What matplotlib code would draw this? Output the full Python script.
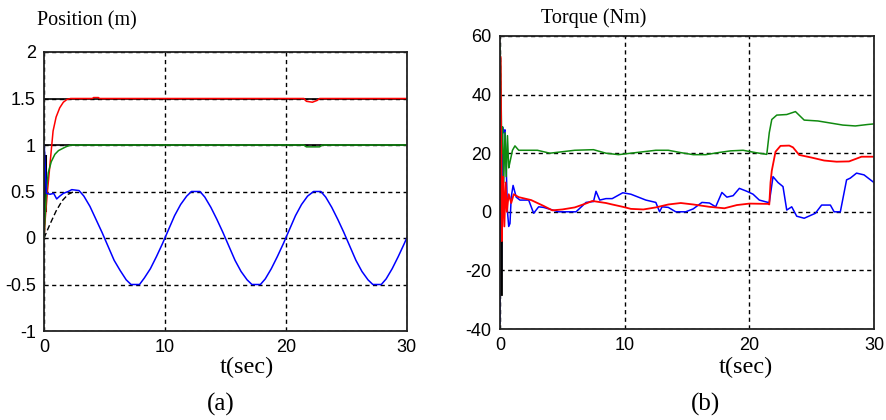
from matplotlib import pyplot as plt
import numpy as np

plt.rcParams['font.family'] = ['Liberation Sans', 'DejaVu Sans']

# ---- (a) position ----
pos_red = [(0.0, 0.0), (0.1, 0.2), (0.25, 0.45), (0.5, 0.8), (0.75, 1.15), (1.0, 1.3),
           (1.3, 1.4), (1.6, 1.46), (1.9, 1.49), (2.2, 1.5), (4.0, 1.5), (4.1, 1.51),
           (4.5, 1.51), (4.6, 1.5), (21.5, 1.5), (21.7, 1.47), (22.2, 1.46), (22.6, 1.48),
           (22.8, 1.5), (30.0, 1.5)]
pos_green = [(0.0, 0.0), (0.1, 0.25), (0.2, 0.5), (0.35, 0.7), (0.6, 0.82), (0.9, 0.9),
             (1.2, 0.94), (1.5, 0.96), (1.8, 0.98), (2.2, 1.0), (21.5, 1.0), (21.7, 0.98),
             (22.2, 0.98), (22.8, 0.98), (23.0, 1.0), (30.0, 1.0)]
pos_blue = [(0.0, 1.0), (0.02, 1.0), (0.2, 0.48), (0.5, 0.47), (0.8, 0.48), (1.05, 0.42),
            (1.3, 0.45), (1.6, 0.48), (2.0, 0.5), (2.3, 0.52), (2.9, 0.51), (3.3, 0.45),
            (3.8, 0.34), (4.3, 0.2), (4.8, 0.06), (5.3, -0.09), (5.8, -0.24), (6.3, -0.35),
            (6.8, -0.45), (7.2, -0.5), (7.9, -0.5), (8.3, -0.43), (8.8, -0.33), (9.3, -0.2),
            (9.8, -0.06), (10.3, 0.09), (10.8, 0.24), (11.3, 0.36), (11.8, 0.45), (12.2, 0.5),
            (12.9, 0.5), (13.3, 0.44), (13.8, 0.33), (14.3, 0.2), (14.8, 0.06), (15.3, -0.09),
            (15.8, -0.24), (16.3, -0.36), (16.8, -0.45), (17.2, -0.5), (17.9, -0.5), (18.3, -0.44),
            (18.8, -0.33), (19.3, -0.2), (19.8, -0.06), (20.3, 0.09), (20.8, 0.24), (21.3, 0.36),
            (21.8, 0.45), (22.3, 0.5), (22.9, 0.5), (23.3, 0.44), (23.8, 0.33), (24.3, 0.2),
            (24.8, 0.06), (25.3, -0.09), (25.8, -0.24), (26.3, -0.36), (26.8, -0.45), (27.2, -0.5),
            (27.9, -0.5), (28.3, -0.44), (28.8, -0.33), (29.3, -0.2), (29.8, -0.06), (30.0, 0.0)]
# desired trajectories (black)
ref_x = [(0.0, 1.5), (30.0, 1.5)]
ref_y = [(0.0, 1.0), (30.0, 1.0)]
ref_z = [(0.0, 0.0), (0.5, 0.15), (1.0, 0.29), (1.5, 0.4), (2.0, 0.47), (2.5, 0.5)]
ref_spike = [(0.08, 0.3), (0.08, 0.88)]

# ---- (b) torque ----
tq_red = [(0.0, 0), (0.03, 53), (0.1, 20), (0.15, -10), (0.25, 12), (0.35, -5), (0.45, 10),
          (0.55, 0), (0.7, 6), (0.9, 3), (1.1, 6), (1.5, 5), (2.0, 4.5), (2.5, 4), (3.0, 3),
          (3.5, 2), (4.2, 0.5), (5.0, 0.8), (6.0, 1.5), (7.0, 3), (7.4, 3.7), (8.5, 3),
          (9.0, 2.5), (9.85, 1.7), (10.5, 1), (11.5, 0.8), (12.5, 1.5), (13.5, 2.5), (14.5, 3),
          (15.5, 2.5), (16.8, 1.7), (18.0, 1.2), (19.0, 2.3), (20.0, 2.8), (21.5, 2.7),
          (21.6, 2.5), (21.7, 10), (21.8, 14), (22.1, 20.5), (22.5, 22.5), (23.2, 22.6),
          (23.5, 22), (24.0, 19.4), (25.0, 18.5), (26.0, 17.5), (27.0, 17.1), (28.0, 17.2),
          (29.0, 18.8), (30.0, 18.8)]
tq_green = [(0.0, 57), (0.05, 50), (0.15, 20), (0.2, 29), (0.3, 10), (0.4, 27), (0.5, 12),
            (0.6, 26), (0.7, 15), (0.8, 17), (0.9, 19), (1.0, 21), (1.2, 22.5), (1.5, 21),
            (3.0, 21), (4.0, 20), (5.0, 20.5), (6.0, 21), (7.5, 21.2), (8.5, 20), (9.5, 19.5),
            (10.5, 20), (11.5, 20.5), (12.5, 21), (13.5, 21), (14.5, 20.2), (15.5, 19.5),
            (16.5, 19.5), (17.5, 20.2), (18.5, 20.8), (19.5, 21), (20.5, 20.2), (21.4, 19.6),
            (21.6, 27), (21.8, 31.5), (22.2, 33), (23.0, 33.2), (23.7, 34.2), (24.4, 31.3),
            (25.5, 31), (26.5, 30.3), (27.5, 29.6), (28.5, 29.3), (29.5, 29.8), (30.0, 30)]
tq_blue = [(0.0, -38), (0.05, 12), (0.1, -28), (0.2, 29), (0.3, 27), (0.4, 28), (0.5, 15),
           (0.6, 0), (0.7, -5), (0.8, -4), (0.9, 5), (1.05, 9), (1.3, 5), (1.6, 4), (2.0, 4),
           (2.3, 4), (2.7, -0.5), (3.1, 1.7), (3.5, 1.5), (3.9, 1), (4.7, 0), (6.1, 0),
           (6.9, 3.2), (7.5, 3.5), (7.7, 7), (8.0, 4), (8.5, 4.5), (9.0, 4.5), (9.85, 6.5),
           (10.5, 6), (11.7, 4), (12.5, 3.2), (12.8, 0), (13.0, 1.7), (13.5, 1.5), (14.1, 0),
           (14.9, 0), (15.5, 1), (16.2, 3.2), (16.8, 3), (17.3, 1.7), (17.8, 6.6), (18.2, 5),
           (18.7, 5.5), (19.2, 8), (19.8, 7), (20.3, 6), (20.8, 4), (21.5, 3.2), (21.6, 3.2),
           (21.9, 12), (22.3, 10), (22.7, 8.6), (23.0, 0.6), (23.4, 1.7), (23.8, -1.5),
           (24.4, -2.2), (25.3, -0.5), (25.8, 2.3), (26.5, 2.3), (26.8, 0), (27.3, 0),
           (27.8, 10.9), (28.1, 11.5), (28.6, 13.2), (29.2, 12.6), (29.9, 10.3), (30.0, 10.0)]
tq_spike = [(0.08, -28), (0.08, -10)]

RED, GREEN, BLUE = '#ff0000', '#108a10', '#0000ff'

fig = plt.figure(figsize=(8.86, 4.2), dpi=100)
ax1 = fig.add_axes([44/886, 1-331/420, 362.7/886, 279/420])
ax2 = fig.add_axes([500/886, 1-329/420, 374/886, 293/420])


def xy(pts):
    a = np.array(pts, dtype=float)
    return a[:, 0], a[:, 1]


def style(ax, yticks, ylabels):
    ax.set_xlim(0, 30)
    ax.set_xticks([0, 10, 20, 30])
    ax.set_yticks(yticks)
    ax.set_yticklabels(ylabels)
    ax.set_ylim(yticks[0], yticks[-1])
    ax.grid(True, color='black', linestyle=(0, (3, 2.5)), linewidth=1.0)
    ax.set_axisbelow(True)
    ax.tick_params(direction='in', length=0, labelsize=13, pad=6)
    for s in ax.spines.values():
        s.set_color('#222222')
        s.set_linewidth(1.3)


# (a)
for pts in (ref_x, ref_y):
    ax1.plot(*xy(pts), color='black', lw=1.2)
ax1.plot(*xy(ref_z), color='black', lw=1.0, linestyle=(0, (4, 2)))
ax1.plot(*xy(ref_spike), color='black', lw=2.2)
ax1.plot(*xy(pos_red), color=RED, lw=1.1)
ax1.plot(*xy(pos_green), color=GREEN, lw=1.1)
ax1.plot(*xy(pos_blue), color=BLUE, lw=1.1)
style(ax1, [-1, -0.5, 0, 0.5, 1, 1.5, 2], ['-1', '-0.5', '0', '0.5', '1', '1.5', '2'])

# (b)
ax2.plot(*xy(tq_blue), color=BLUE, lw=1.1)
ax2.plot(*xy(tq_spike), color='black', lw=2.0)
ax2.plot(*xy(tq_green), color=GREEN, lw=1.1)
ax2.plot(*xy(tq_red), color=RED, lw=1.3)
style(ax2, [-40, -20, 0, 20, 40, 60], ['-40', '-20', '0', '20', '40', '60'])

serif = ['Liberation Serif', 'DejaVu Serif']
fig.text(37/886, 1-25/420, 'Position (m)', family=serif, fontsize=14.5, va='baseline')
fig.text(541/886, 1-23/420, 'Torque (Nm)', family=serif, fontsize=14.5, va='baseline')
fig.text(246.7/886, 1-373/420, 't(sec)', family=serif, fontsize=17.5, ha='center', va='baseline')
fig.text(746/886, 1-373/420, 't(sec)', family=serif, fontsize=17.5, ha='center', va='baseline')
fig.text(221/886, 1-411/420, '(a)', family=serif, fontsize=18, ha='center', va='baseline')
fig.text(705/886, 1-411/420, '(b)', family=serif, fontsize=18, ha='center', va='baseline')

fig.savefig('out.png', dpi=100)
